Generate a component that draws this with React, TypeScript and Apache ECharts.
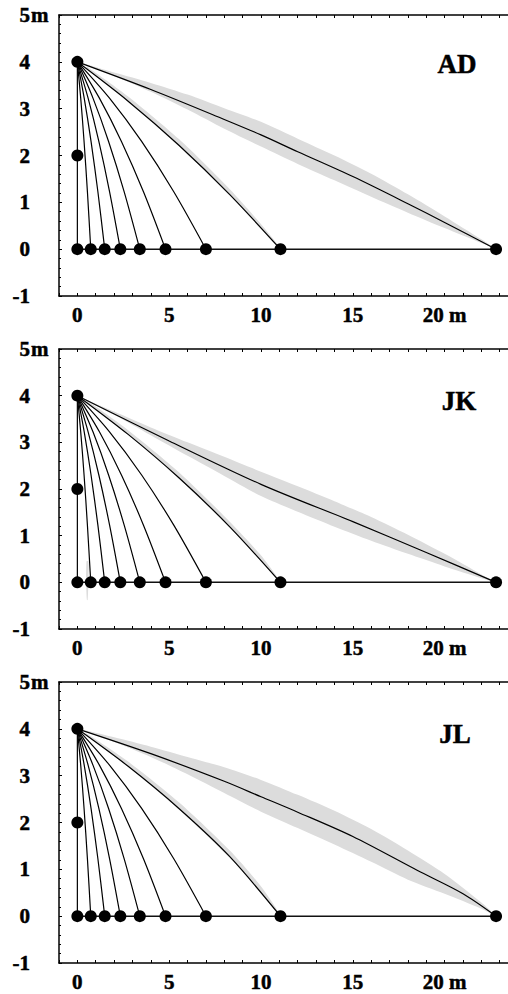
import React, { useEffect, useRef } from "react";
import * as echarts from "echarts";

const FONT = '"Liberation Serif", "Times New Roman", serif';

const panelNames = ["AD", "JK", "JL"];
const xTickValues = [0, 5, 10, 15, 20];
const xTickLabels = ["0", "5", "10", "15", "20 m"];
const yTickValues = [-1, 0, 1, 2, 3, 4, 5];
const yTickLabels = ["-1", "0", "1", "2", "3", "4", "5"];

const landingX = [0, 0.73, 1.49, 2.34, 3.4, 4.8, 7.0, 11.06, 22.8];
const releasePoint = [0, 4];
const midDropPoint = [0, 2];
const groundLine = [[0, 0], [22.8, 0]];
const dropLine = [[0, 4], [0, 0]];

const shortCurves = [
  [[0, 4], [0.1825, 3.225], [0.365, 2.3], [0.5475, 1.225], [0.73, 0]],
  [[0, 4], [0.3725, 3.225], [0.745, 2.3], [1.1175, 1.225], [1.49, 0]],
  [[0, 4], [0.585, 3.225], [1.17, 2.3], [1.755, 1.225], [2.34, 0]],
  [[0, 4], [0.85, 3.225], [1.7, 2.3], [2.55, 1.225], [3.4, 0]],
  [[0, 4], [1.2, 3.225], [2.4, 2.3], [3.6, 1.225], [4.8, 0]],
  [[0, 4], [1.75, 3.225], [3.5, 2.3], [5.25, 1.225], [7.0, 0]],
];

const curve11AD = [[0, 4], [2.765, 3.16], [5.53, 2.22], [8.3, 1.165], [11.06, 0]];
const curve11JK = [[0, 4], [2.765, 3.17], [5.53, 2.24], [8.3, 1.19], [11.06, 0]];
const curve11JL = [[0, 4], [2.765, 3.2], [5.53, 2.3], [8.3, 1.27], [11.06, 0]];

const longAD = [[0, 4], [4, 3.41], [8, 2.77], [10, 2.44], [12, 2.08], [15, 1.55], [18, 0.97], [20, 0.57], [22.8, 0]];
const longJK = [[0, 4], [5, 3.03], [10, 2.1], [15, 1.3], [19, 0.64], [22.8, 0]];
const longJL = [[0, 4], [4, 3.47], [8, 2.88], [10, 2.55], [12, 2.22], [15, 1.7], [18.5, 0.98], [21, 0.48], [22.8, 0]];

// grey bands: x positions shared by the long bands, then upper / lower edges
const bandX = [2, 4, 6, 8, 10, 12, 14, 16, 18, 20, 22];
const bandLongADUpper = [3.77, 3.55, 3.3, 3.01, 2.72, 2.36, 2.0, 1.61, 1.17, 0.7, 0.21];
const bandLongADLower = [3.7, 3.36, 2.98, 2.57, 2.19, 1.82, 1.47, 1.12, 0.78, 0.45, 0.13];
const bandLongJKUpper = [3.66, 3.32, 3.0, 2.69, 2.37, 2.06, 1.74, 1.4, 1.02, 0.61, 0.17];
const bandLongJKLower = [3.59, 3.15, 2.71, 2.28, 1.85, 1.51, 1.19, 0.89, 0.61, 0.34, 0.09];
const bandLongJLUpper = [3.82, 3.62, 3.4, 3.18, 2.91, 2.59, 2.25, 1.86, 1.4, 0.9, 0.29];
const bandLongJLLower = [3.72, 3.4, 3.03, 2.63, 2.23, 1.88, 1.53, 1.16, 0.78, 0.48, 0.16];
const bandLongStart = [0, 4];
const bandLongEnd = [22.8, 0];

const band11ADUpper = [[0.5, 3.9], [2.765, 3.26], [5.53, 2.35], [8.3, 1.28], [9.95, 0.56], [10.9, 0.1]];
const band11ADLower = [[0.5, 3.86], [2.765, 3.15], [5.53, 2.2], [8.3, 1.15], [9.95, 0.45], [10.9, 0.05]];
const band11JKUpper = [[0.5, 3.9], [2.765, 3.26], [5.53, 2.36], [8.3, 1.3], [9.95, 0.6], [10.9, 0.1]];
const band11JKLower = [[0.5, 3.86], [2.765, 3.16], [5.53, 2.22], [8.3, 1.17], [9.95, 0.48], [10.9, 0.05]];
const band11JLUpper = [[0.5, 3.9], [2.765, 3.3], [5.53, 2.43], [8.3, 1.4], [9.95, 0.66], [10.9, 0.12]];
const band11JLLower = [[0.5, 3.86], [2.765, 3.19], [5.53, 2.28], [8.3, 1.25], [9.95, 0.52], [10.9, 0.06]];
const bandShortJKUpper = [[0.6, 0.45], [0.6, 0], [0.56, -0.38]];
const bandShortJKLower = [[0.5, 0.45], [0.48, 0], [0.52, -0.38]];

function longBand(upper: number[], lower: number[]) {
  const up = bandX.map((x, k) => [x, upper[k]]);
  const low = bandX.map((x, k) => [x, lower[k]]);
  return [[bandLongStart, ...up, bandLongEnd], low];
}

const panels = [
  {
    curve11: curve11AD,
    long: longAD,
    bands: [longBand(bandLongADUpper, bandLongADLower), [band11ADUpper, band11ADLower]],
  },
  {
    curve11: curve11JK,
    long: longJK,
    bands: [
      longBand(bandLongJKUpper, bandLongJKLower),
      [band11JKUpper, band11JKLower],
      [bandShortJKUpper, bandShortJKLower],
    ],
  },
  {
    curve11: curve11JL,
    long: longJL,
    bands: [longBand(bandLongJLUpper, bandLongJLLower), [band11JLUpper, band11JLLower]],
  },
];

const gridTops = [15, 349, 682];
const gridHeights = [281, 280, 281];
const labelCenters = [[457, 64], [459, 401], [455, 734]];

function buildOption() {
  const grid: any[] = [];
  const xAxis: any[] = [];
  const yAxis: any[] = [];
  const series: any[] = [];
  const graphic: any[] = [];
  const labelStyle = {
    fontFamily: FONT,
    fontWeight: "bold",
    fontSize: 21,
    color: "#000",
    textBorderColor: "#000",
    textBorderWidth: 0.5,
  };

  panels.forEach((p, i) => {
    grid.push({ left: 59, top: gridTops[i], width: 449, height: gridHeights[i] });
    const baseX = {
      type: "value",
      gridIndex: i,
      min: -1,
      max: 23.45,
      interval: 1,
      splitLine: { show: false },
      axisLine: { show: true, onZero: false, lineStyle: { color: "#000", width: 1.5 } },
      axisTick: { show: true, inside: true, length: 3, lineStyle: { color: "#000", width: 1 } },
    };
    xAxis.push({
      ...baseX,
      position: "bottom",
      axisLabel: {
        ...labelStyle,
        margin: 8,
        showMinLabel: true,
        showMaxLabel: false,
        formatter: (v: number) => {
          const k = xTickValues.indexOf(v);
          return k >= 0 ? xTickLabels[k] : "";
        },
      },
    });
    xAxis.push({ ...baseX, position: "top", axisLabel: { show: false } });
    yAxis.push({
      type: "value",
      gridIndex: i,
      min: -1,
      max: 5,
      interval: 1,
      splitLine: { show: false },
      minorSplitLine: { show: false },
      axisLine: { show: true, onZero: false, lineStyle: { color: "#000", width: 1.5 } },
      axisTick: { show: true, inside: true, length: 3, lineStyle: { color: "#000", width: 1 } },
      minorTick: { show: true, splitNumber: 5, length: 2, lineStyle: { color: "#000", width: 1 } },
      axisLabel: {
        ...labelStyle,
        margin: 29,
        formatter: (v: number) => {
          const k = yTickValues.indexOf(v);
          return k >= 0 ? yTickLabels[k] : "";
        },
      },
    });

    const xi = i * 2;
    p.bands.forEach((b) => {
      const poly = [...b[0], ...b[1].slice().reverse()];
      series.push({
        type: "custom",
        xAxisIndex: xi,
        yAxisIndex: i,
        silent: true,
        z: 1,
        data: [[0, 0]],
        renderItem: (_params: any, api: any) => ({
          type: "polygon",
          shape: { points: poly.map((pt) => api.coord(pt)), smooth: 0.25 },
          style: { fill: "#dcdcdc", stroke: "none" },
        }),
      });
    });
    const lineBase = {
      type: "line",
      xAxisIndex: xi,
      yAxisIndex: i,
      symbol: "none",
      silent: true,
      z: 3,
      lineStyle: { color: "#000", width: 1.2 },
    };
    series.push({ ...lineBase, data: groundLine, lineStyle: { color: "#111", width: 1.5 } });
    series.push({ ...lineBase, data: dropLine });
    shortCurves.forEach((c) => series.push({ ...lineBase, smooth: 0.3, data: c }));
    series.push({ ...lineBase, smooth: 0.3, data: p.curve11 });
    series.push({ ...lineBase, smooth: 0.3, data: p.long });
    series.push({
      type: "scatter",
      xAxisIndex: xi,
      yAxisIndex: i,
      symbol: "circle",
      symbolSize: 12,
      silent: true,
      z: 5,
      itemStyle: { color: "#000", opacity: 1 },
      data: [releasePoint, midDropPoint, ...landingX.map((x) => [x, 0])],
    });

    graphic.push({
      type: "text",
      x: labelCenters[i][0],
      y: labelCenters[i][1],
      style: {
        text: panelNames[i],
        fontFamily: FONT,
        fontWeight: "bold",
        fontSize: 27,
        fill: "#000",
        stroke: "#000",
        lineWidth: 0.5,
        align: "center",
        verticalAlign: "middle",
      },
    });
    graphic.push({
      type: "text",
      x: 31,
      y: gridTops[i],
      style: {
        text: "m",
        fontFamily: FONT,
        fontWeight: "bold",
        fontSize: 21,
        fill: "#000",
        stroke: "#000",
        lineWidth: 0.5,
        align: "left",
        verticalAlign: "middle",
      },
    });
  });

  return { animation: false, backgroundColor: "#fff", grid, xAxis, yAxis, series, graphic };
}

export default function App() {
  const ref = useRef<HTMLDivElement>(null);
  useEffect(() => {
    if (!ref.current) return;
    const chart = echarts.init(ref.current, null, { renderer: "svg", width: 508, height: 994 });
    chart.setOption(buildOption() as any);
    return () => chart.dispose();
  }, []);
  return (
    <div
      ref={ref}
      style={{ position: "absolute", left: 0, top: 0, width: 508, height: 994, background: "#fff" }}
    />
  );
}
